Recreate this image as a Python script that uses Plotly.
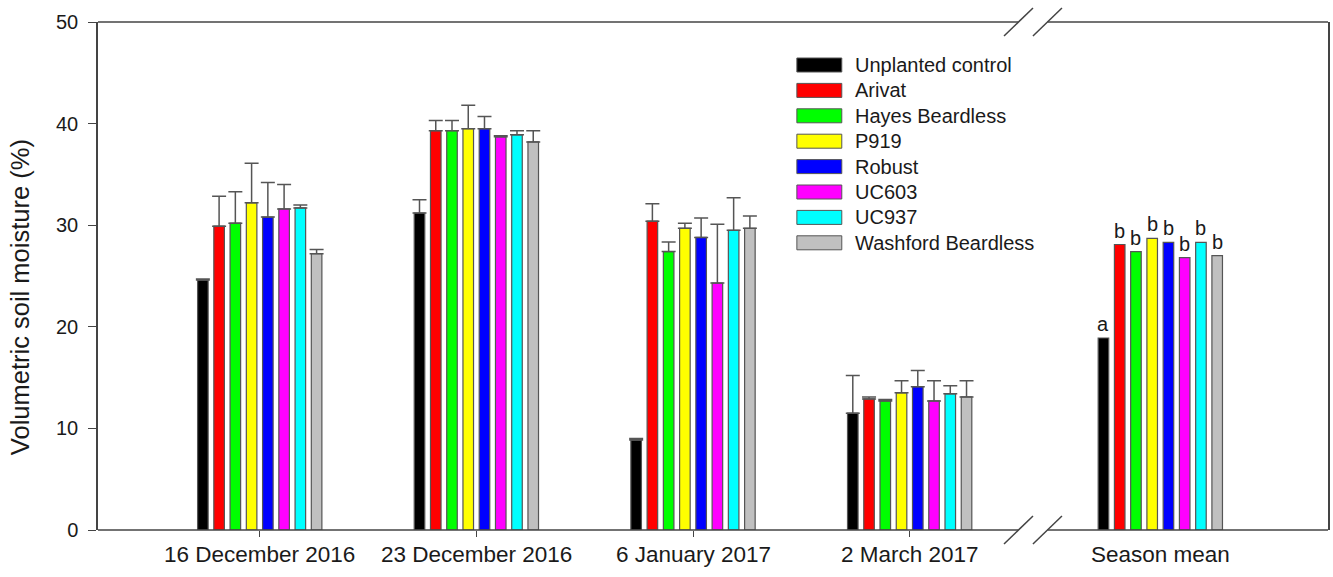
import plotly.graph_objects as go

# ---------------- data ----------------
dates = ["16 December 2016", "23 December 2016", "6 January 2017", "2 March 2017", "Season mean"]
x_pos = [1, 2, 3, 4, 5.157]   # category positions (axis break between 4 and Season mean)

cultivars = ["Unplanted control", "Arivat", "Hayes Beardless", "P919", "Robust",
             "UC603", "UC937", "Washford Beardless"]

unplanted = [24.6, 31.2, 8.85, 11.5, 18.9]
arivat = [29.9, 39.3, 30.4, 12.9, 28.1]
hayes = [30.2, 39.3, 27.4, 12.7, 27.4]
p919 = [32.2, 39.5, 29.7, 13.5, 28.7]
robust = [30.8, 39.5, 28.8, 14.1, 28.3]
uc603 = [31.6, 38.7, 24.3, 12.7, 26.8]
uc937 = [31.7, 38.9, 29.5, 13.4, 28.3]
washford = [27.2, 38.2, 29.7, 13.1, 27.0]

# upper standard errors (season mean has none)
unplanted_err = [0.1, 1.3, 0.15, 3.7]
arivat_err = [2.95, 1.0, 1.7, 0.2]
hayes_err = [3.1, 1.0, 0.95, 0.15]
p919_err = [3.9, 2.3, 0.5, 1.2]
robust_err = [3.4, 1.2, 1.9, 1.6]
uc603_err = [2.4, 0.1, 5.8, 2.0]
uc937_err = [0.3, 0.4, 3.2, 0.8]
washford_err = [0.4, 1.1, 1.2, 1.6]

season_letters = ["a", "b", "b", "b", "b", "b", "b", "b"]

values = [unplanted, arivat, hayes, p919, robust, uc603, uc937, washford]
errors = [unplanted_err, arivat_err, hayes_err, p919_err, robust_err, uc603_err, uc937_err, washford_err]
colors = ["#000000", "#FF0000", "#00FF00", "#FFFF00", "#0000FF", "#FF00FF", "#00FFFF", "#C0C0C0"]

y_ticks = [0, 10, 20, 30, 40, 50]

# ---------------- layout constants ----------------
W, H = 1333, 577
ML, MR, MT, MB = 98, 3, 22, 47
PW, PH = W - ML - MR, H - MT - MB
FONT = "Arial, Liberation Sans, sans-serif"
AX = "#444444"
TXT = "#1a1a1a"
BARGAP = 0.4

def px_x(p):
    return (p - ML) / PW

def px_y(p):
    return (H - MB - p) / PH

fig = go.Figure()
for name, vals, errs, col in zip(cultivars, values, errors, colors):
    fig.add_trace(go.Bar(
        x=x_pos, y=vals, name=name,
        marker=dict(color=col, line=dict(color="#555555", width=1.2)),
        error_y=dict(type="data", symmetric=False, array=errs,
                     arrayminus=[0] * len(errs), color="#555555",
                     thickness=1.5, width=7),
        showlegend=False,
    ))

xr = [0.2535, 5.931]
fig.update_layout(
    width=W, height=H,
    margin=dict(l=ML, r=MR, t=MT, b=MB),
    paper_bgcolor="white", plot_bgcolor="white",
    barmode="group", bargap=BARGAP, bargroupgap=0.35,
    font=dict(family=FONT, color=TXT),
    xaxis=dict(range=xr, tickvals=x_pos[:4], showticklabels=False,
               ticks="outside", ticklen=6, tickcolor=AX, tickwidth=1.2,
               showline=False, showgrid=False, zeroline=False),
    yaxis=dict(range=[0, 50], tickvals=y_ticks, ticks="outside", ticklen=8,
               tickcolor=AX, tickwidth=1.2, showline=True, linecolor=AX,
               linewidth=1.5, mirror=True, showgrid=False, zeroline=False,
               tickfont=dict(size=20, color=TXT), ticklabelstandoff=6),
)

shapes = []
brk_l, brk_r = px_x(1020), px_x(1049)
for yy in (0, 1):
    shapes.append(dict(type="line", xref="paper", yref="paper", x0=0, x1=brk_l,
                       y0=yy, y1=yy, line=dict(color=AX, width=1.5)))
    shapes.append(dict(type="line", xref="paper", yref="paper", x0=brk_r, x1=1,
                       y0=yy, y1=yy, line=dict(color=AX, width=1.5)))
    for xb in (brk_l, brk_r):
        shapes.append(dict(type="line", xref="paper", yref="paper",
                           xsizemode="pixel", ysizemode="pixel",
                           xanchor=xb, yanchor=yy, x0=-14.5, x1=14.5, y0=-14, y1=14,
                           line=dict(color=AX, width=1.5)))

annotations = []
# x category labels
for xp, lab in zip(x_pos, dates):
    annotations.append(dict(x=xp, y=0, xref="x", yref="paper", text=lab,
                            showarrow=False, yanchor="top", yshift=-10,
                            font=dict(size=22.5, color=TXT)))
# y title
annotations.append(dict(x=px_x(20), y=px_y(297), xref="paper", yref="paper",
                        text="Volumetric soil moisture (%)", textangle=-90,
                        xanchor="center", yanchor="middle",
                        showarrow=False, font=dict(size=25.5, color=TXT)))
# significance letters above season mean bars
n = len(cultivars)
slot = (1 - BARGAP) / n
for i, (vals, let) in enumerate(zip(values, season_letters)):
    annotations.append(dict(x=x_pos[4] + (i - (n - 1) / 2) * slot, y=vals[4],
                            xref="x", yref="y", text=let, showarrow=False,
                            yanchor="bottom", yshift=1,
                            font=dict(size=20, color=TXT)))
# manual legend
for i, (name, col) in enumerate(zip(cultivars, colors)):
    cy = 65 + i * 25.4
    shapes.append(dict(type="rect", xref="paper", yref="paper",
                       x0=px_x(798), x1=px_x(843), y0=px_y(cy + 7), y1=px_y(cy - 7),
                       fillcolor=col, line=dict(color="#555555", width=1)))
    annotations.append(dict(x=px_x(854), y=px_y(cy), xref="paper", yref="paper",
                            text=name, showarrow=False, xanchor="left",
                            yanchor="middle", font=dict(size=20, color=TXT)))

fig.update_layout(shapes=shapes, annotations=annotations)
fig.write_html("out.html", config={"displayModeBar": False},
               post_script="document.body.style.margin='0px';document.body.style.overflow='hidden';")
